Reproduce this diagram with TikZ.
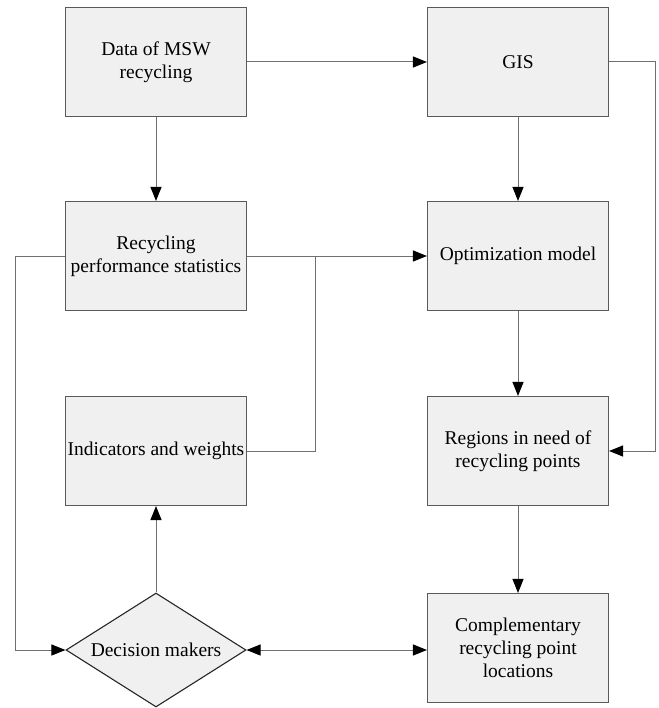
\documentclass[tikz,border=0pt]{standalone}
\usepackage{fontspec}
\setmainfont{Liberation Serif}
\usetikzlibrary{arrows.meta,shapes.geometric}
\definecolor{boxfill}{HTML}{F0F0F0}
\definecolor{boxline}{HTML}{5A5A5A}
\definecolor{wire}{HTML}{707070}
\tikzset{
  tip/.tip={Triangle[length=14pt,width=11pt,color=black]},
  stepbox/.style={draw=boxline,fill=boxfill,line width=1.1pt,minimum width=181pt,minimum height=109pt,align=center,inner sep=2pt},
  choice/.style={draw=black!85,fill=boxfill,line width=1.1pt,diamond,aspect=1.58,inner sep=0pt,minimum width=180pt,minimum height=114pt,align=center},
  link/.style={draw=wire,line width=1pt,-tip},
  twolink/.style={draw=wire,line width=1pt,tip-tip}
}
\begin{document}
\begin{tikzpicture}[x=1pt,y=-1pt,font=\fontsize{19.5}{23}\selectfont]
\useasboundingbox (0,0) rectangle (658,708);

\node[stepbox] (data) at (156,62) {Data of MSW\\recycling};
\node[stepbox] (gis) at (518,62) {GIS};
\node[stepbox] (stats) at (156,256) {Recycling\\performance statistics};
\node[stepbox] (opt) at (518,256) {Optimization model};
\node[stepbox] (ind) at (156,451) {Indicators and weights};
\node[stepbox] (reg) at (518,451) {Regions in need of\\recycling points};
\node[stepbox] (comp) at (518,648) {Complementary\\recycling point\\locations};
\node[choice] (dm) at (156,650) {Decision makers};

\coordinate (j) at (315,256);
\coordinate (r) at (655,62);
\coordinate (l) at (15,256);

\draw[link] (data) -- (gis);
\draw[link] (data) -- (stats);
\draw[link] (gis) -- (opt);
\draw[link] (opt) -- (reg);
\draw[link] (reg) -- (comp);
\draw[link] (stats.east) -- (opt.west);
\draw[wire,line width=1pt] (ind.east) -| (j);
\draw[link] (gis.east) -- (r) |- (reg.east);
\draw[link] (stats.west) -- (l) |- (dm.west);
\draw[link] (dm) -- (ind);
\draw[twolink] (dm.east) -- (dm.east -| comp.west);

\end{tikzpicture}
\end{document}
